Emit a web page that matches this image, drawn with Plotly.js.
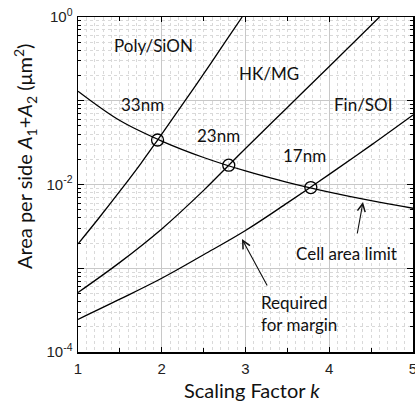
<!DOCTYPE html>
<html>
<head>
<meta charset="utf-8">
<script src="https://cdn.plot.ly/plotly-3.0.1.min.js"></script>
<style>
  html, body { margin: 0; padding: 0; background: #fff; }
  #chart { width: 415px; height: 403px; }
</style>
</head>
<body>
<div id="chart"></div>
<script>
// Scaling factor k and the area per side (um^2) for each curve
const cellK    = [1, 1.5, 2, 2.5, 3, 3.5, 4, 4.5, 5];
const cellArea = [0.13, 0.058, 0.033, 0.021, 0.0145, 0.0106, 0.0081, 0.0064, 0.0052];

const polyK    = [1, 1.25, 1.5, 1.75, 1.95, 2.25, 2.5, 2.75, 2.96];
const polyArea = [0.00195, 0.00398, 0.00832, 0.0178, 0.0339, 0.0912, 0.209, 0.49, 1.0];

const hkK      = [1, 1.5, 2, 2.5, 2.8, 3, 3.5, 4, 4.6];
const hkArea   = [0.000513, 0.001175, 0.00295, 0.00851, 0.017, 0.0269, 0.0832, 0.257, 1.0];

const finK     = [1, 1.5, 2, 2.5, 3, 3.5, 3.78, 4, 4.5, 5];
const finArea  = [0.000245, 0.000427, 0.000759, 0.00145, 0.00282, 0.00603, 0.00933, 0.0132, 0.0295, 0.0676];

// Crossing points with the cell area limit
const nodeK    = [1.95, 2.8, 3.78];
const nodeArea = [0.034, 0.017, 0.0092];
const nodeText = ['33nm', '23nm', '17nm'];

const yTickVals = [1e-4, 1e-3, 1e-2, 1e-1, 1];
const yTickText = ['10<sup>-4</sup>', '', '10<sup>-2</sup>', '', '10<sup>0</sup>'];
const xTickVals = [1, 2, 3, 4, 5];
const xHalfTicks = [1.5, 2.5, 3.5, 4.5];

const lineStyle = {color: '#000', width: 1.3, shape: 'spline', smoothing: 1};
const curve = (x, y) => ({x, y, type: 'scatter', mode: 'lines', line: lineStyle,
                          hoverinfo: 'skip', showlegend: false});

const traces = [
  curve(cellK, cellArea),
  curve(polyK, polyArea),
  curve(hkK, hkArea),
  curve(finK, finArea),
  {x: nodeK, y: nodeArea, xaxis: 'x2', type: 'scatter', mode: 'markers',
   marker: {symbol: 'circle-open', size: 12, color: '#000', line: {width: 1.3, color: '#000'}},
   hoverinfo: 'skip', showlegend: false}
];

const textFamily = 'Lato, "Open Sans", sans-serif';
const textFont = {family: textFamily, size: 17, color: '#111'};
const lg = Math.log10;
const label = (text, x, y, extra) => Object.assign({
  text, x, y: lg(y), xref: 'x', yref: 'y', showarrow: false, font: textFont
}, extra || {});

const annotations = [
  label('Poly/SiON', 1.896, 0.463),
  label(nodeText[0], 1.776, 0.0914),
  label(nodeText[1], 2.672, 0.039),
  label('HK/MG', 3.28, 0.214),
  label('Fin/SOI', 4.40, 0.0914),
  label(nodeText[2], 3.70, 0.0219),
  label('Cell area limit', 4.20, 0.00152),
  label('Required<br>for margin', 3.16, 0.000292, {xanchor: 'left', align: 'left'}),
  // arrows pointing at the cell area limit and the required area curve
  {x: 4.403, y: lg(0.00618), xref: 'x', yref: 'y', ax: -6, ay: 33, text: '',
   showarrow: true, arrowhead: 5, arrowsize: 1.4, arrowwidth: 1.1, arrowcolor: '#111'},
  {x: 2.958, y: lg(0.00223), xref: 'x', yref: 'y', ax: 26, ay: 48, text: '',
   showarrow: true, arrowhead: 5, arrowsize: 1.4, arrowwidth: 1.1, arrowcolor: '#111'},
  // axis titles
  {text: 'Scaling Factor <i>k</i>', xref: 'paper', yref: 'paper', x: 0.518, y: -0.113,
   xanchor: 'center', yanchor: 'middle', showarrow: false,
   font: {family: textFamily, size: 20, color: '#111'}},
  {text: 'Area per side <i>A</i><sub>1</sub>+<i>A</i><sub>2</sub> (μm<sup>2</sup>)',
   xref: 'paper', yref: 'paper', x: -0.158, y: 0.585, xanchor: 'center', yanchor: 'middle',
   textangle: -90, showarrow: false,
   font: {family: textFamily, size: 20, color: '#111'}}
];

const tickFont = {family: '"Liberation Sans", Arial, sans-serif', size: 15, color: '#222'};

const layout = {
  width: 415, height: 403,
  margin: {l: 78, r: 2, t: 17, b: 51},
  paper_bgcolor: '#fff', plot_bgcolor: '#fff',
  showlegend: false,
  xaxis: {
    range: [1, 5], tickvals: xTickVals, ticktext: xTickVals.map(String),
    ticks: 'inside', ticklen: 5, tickcolor: '#000', tickwidth: 1,
    showline: true, linecolor: '#000', linewidth: 1.5, mirror: 'ticks',
    showgrid: true, gridcolor: '#c8c8c8', gridwidth: 1, zeroline: false,
    tickfont: tickFont, ticklabelstandoff: 2, ticklabeloverflow: 'allow',
    minor: {dtick: 0.1, tick0: 1, showgrid: true, gridcolor: '#d9d9d9', griddash: '3px,3px', gridwidth: 1, ticks: ''}
  },
  xaxis2: {
    overlaying: 'x', matches: 'x', anchor: 'y', range: [1, 5],
    tickvals: xHalfTicks, showticklabels: false,
    ticks: 'inside', ticklen: 4, tickcolor: '#000', mirror: 'ticks',
    showline: false, showgrid: false, zeroline: false
  },
  yaxis: {
    type: 'log', range: [-4, 0], tickvals: yTickVals, ticktext: yTickText,
    ticks: 'inside', ticklen: 6, tickcolor: '#000', tickwidth: 1,
    showline: true, linecolor: '#000', linewidth: 1.5, mirror: 'ticks',
    showgrid: true, gridcolor: '#c8c8c8', gridwidth: 1, zeroline: false,
    tickfont: tickFont, ticklabelstandoff: 1, ticklabeloverflow: 'allow',
    minor: {dtick: 'D1', showgrid: true, gridcolor: '#d9d9d9', griddash: '3px,3px', gridwidth: 1,
            ticks: 'inside', ticklen: 3, tickcolor: '#000'}
  },
  annotations
};

Plotly.newPlot('chart', traces, layout, {staticPlot: true, displayModeBar: false});
</script>
</body>
</html>
